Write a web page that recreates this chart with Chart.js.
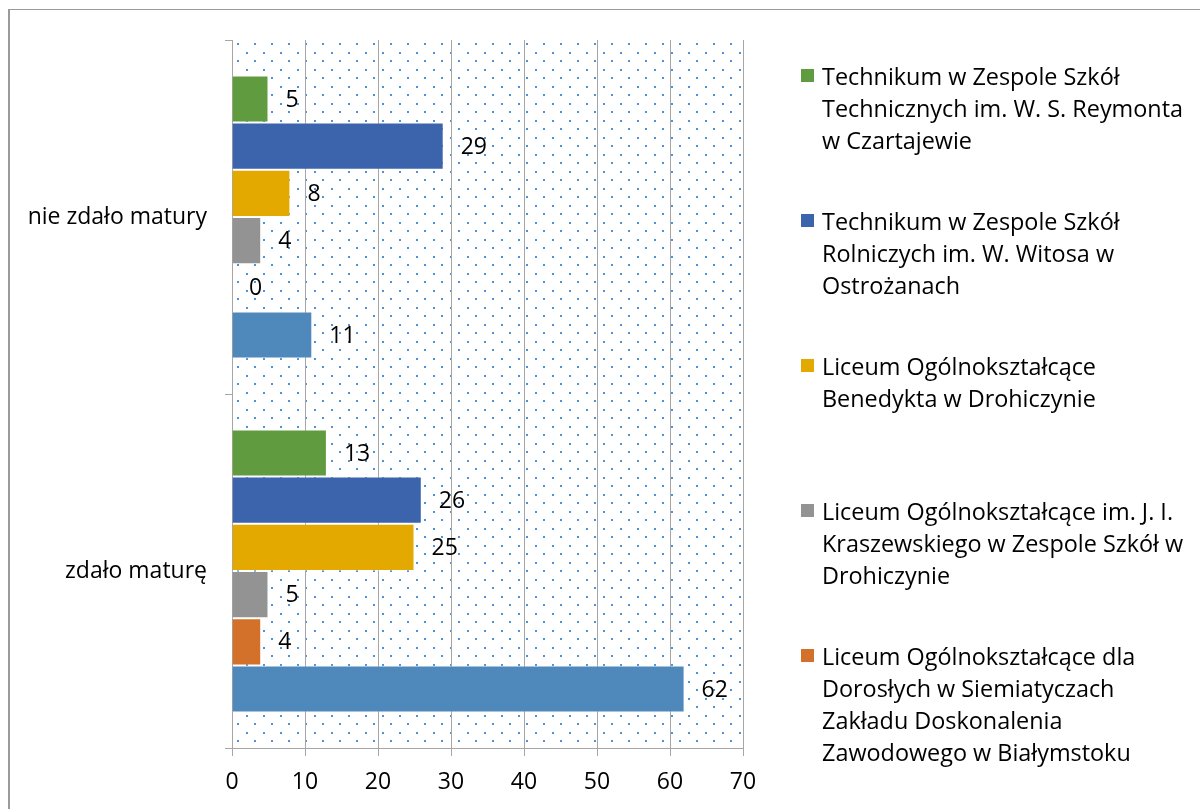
<!DOCTYPE html>
<html lang="pl">
<head>
    <meta charset="UTF-8">
    <title>Wyniki matur</title>
    <script src="https://cdn.jsdelivr.net/npm/chart.js"></script>
    <style>
        body {
            margin: 0;
            background-color: #ffffff;
            font-family: 'Open Sans', sans-serif;
            overflow: hidden;
        }
        #wrap {
            position: relative;
            width: 1200px;
            height: 809px;
        }
        #frame {
            position: absolute;
            left: 8px;
            top: 9px;
            right: -4px;
            bottom: -4px;
            border-top: 1px solid #9a9a9a;
            border-left: 2px solid #9a9a9a;
        }
        #myChart {
            position: absolute;
            left: 0;
            top: 0;
        }
        #legend {
            position: absolute;
            left: 801px;
            top: 0;
        }
        .item {
            position: absolute;
            left: 0;
            width: 395px;
            padding-left: 21px;
            white-space: pre-line;
            font-size: 23.4px;
            line-height: 32px;
            color: #000;
        }
        .item .box {
            position: absolute;
            left: 0;
            top: 9px;
            width: 13px;
            height: 13px;
        }
    </style>
</head>
<body>
<div id="wrap">
    <div id="frame"></div>
    <canvas id="myChart" width="1200" height="809"></canvas>
    <div id="legend"></div>
</div>

<script>
    // kategorie (oś Y)
    const categories = ['nie zdało matury', 'zdało maturę'];

    // nazwy szkół (z podziałem linii jak w legendzie)
    const seriesNames = [
        'Technikum w Zespole Szkół\nTechnicznych im. W. S. Reymonta\nw Czartajewie',
        'Technikum w Zespole Szkół\nRolniczych im. W. Witosa w\nOstrożanach',
        'Liceum Ogólnokształcące\nBenedykta w Drohiczynie',
        'Liceum Ogólnokształcące im. J. I.\nKraszewskiego w Zespole Szkół w\nDrohiczynie',
        'Liceum Ogólnokształcące dla\nDorosłych w Siemiatyczach\nZakładu Doskonalenia\nZawodowego w Białymstoku',
        'Razem'
    ];

    // wartości: [nie zdało, zdało]
    const czartajew = [5, 13];
    const ostrozany = [29, 26];
    const drohiczynBenedykt = [8, 25];
    const drohiczynKraszewski = [4, 5];
    const siemiatycze = [0, 4];
    const razem = [11, 62];

    const seriesValues = [czartajew, ostrozany, drohiczynBenedykt, drohiczynKraszewski, siemiatycze, razem];
    const seriesColors = ['#619b3f', '#3c64ad', '#e3a900', '#939393', '#d3702a', '#4f89bb'];
    const legendCount = 5; // ostatnia seria nie ma wpisu w legendzie

    const xTicksMax = 70;
    const xTicksStep = 10;

    // tło obszaru wykresu w kropki
    const dotPattern = {
        id: 'dotPattern',
        beforeDraw(chart) {
            const ctx = chart.ctx;
            const a = chart.chartArea;
            const tile = document.createElement('canvas');
            tile.width = 17;
            tile.height = 17;
            const t = tile.getContext('2d');
            t.fillStyle = '#4d93d9';
            t.fillRect(1, 1, 2, 2);
            t.fillRect(10, 10, 2, 2);
            ctx.save();
            ctx.translate(a.left + 4, a.top + 2);
            ctx.fillStyle = ctx.createPattern(tile, 'repeat');
            ctx.fillRect(-4, -2, a.right - a.left, a.bottom - a.top);
            ctx.restore();
        }
    };

    // etykiety wartości przy słupkach
    const barLabels = {
        id: 'barLabels',
        afterDatasetsDraw(chart) {
            const ctx = chart.ctx;
            ctx.save();
            ctx.font = '23px "Open Sans"';
            ctx.fillStyle = '#000';
            ctx.textBaseline = 'middle';
            ctx.textAlign = 'left';
            chart.data.datasets.forEach((ds, i) => {
                chart.getDatasetMeta(i).data.forEach((bar, j) => {
                    ctx.fillText(ds.data[j], bar.x + 17, bar.y + 1);
                });
            });
            ctx.restore();
        }
    };

    const datasets = seriesValues.map((vals, i) => ({
        label: seriesNames[i].replace(/\n/g, ' '),
        data: vals,
        backgroundColor: seriesColors[i],
        borderColor: 'rgba(255,255,255,0.35)',
        borderWidth: 1,
        categoryPercentage: 0.8,
        barPercentage: 1.0
    }));

    const ctx = document.getElementById('myChart').getContext('2d');
    new Chart(ctx, {
        type: 'bar',
        data: {
            labels: categories,
            datasets: datasets
        },
        options: {
            indexAxis: 'y',
            responsive: false,
            animation: false,
            devicePixelRatio: 1,
            layout: {
                padding: { left: 0, top: 40, right: 457, bottom: 0 }
            },
            scales: {
                x: {
                    min: 0,
                    max: xTicksMax,
                    afterFit(scale) { scale.height = 61; },
                    ticks: {
                        stepSize: xTicksStep,
                        color: '#000',
                        padding: 13,
                        maxRotation: 0,
                        font: { family: 'Open Sans', size: 23 }
                    },
                    grid: {
                        color: '#a6a6a6',
                        lineWidth: 1,
                        tickLength: 8
                    },
                    border: { color: '#a6a6a6' }
                },
                y: {
                    afterFit(scale) { scale.width = 232; },
                    ticks: {
                        color: '#000',
                        padding: 18,
                        font: { family: 'Open Sans', size: 23 }
                    },
                    grid: {
                        offset: true,
                        drawOnChartArea: false,
                        color: '#a6a6a6',
                        tickLength: 7
                    },
                    border: { color: '#a6a6a6' }
                }
            },
            plugins: {
                legend: { display: false },
                tooltip: { enabled: false }
            }
        },
        plugins: [dotPattern, barLabels]
    });

    // legenda po prawej stronie
    const legend = document.getElementById('legend');
    for (let i = 0; i < legendCount; i++) {
        const item = document.createElement('div');
        item.className = 'item';
        item.style.top = (60 + i * 145) + 'px';
        const box = document.createElement('span');
        box.className = 'box';
        box.style.backgroundColor = seriesColors[i];
        item.appendChild(box);
        item.appendChild(document.createTextNode(seriesNames[i]));
        legend.appendChild(item);
    }
</script>
</body>
</html>
